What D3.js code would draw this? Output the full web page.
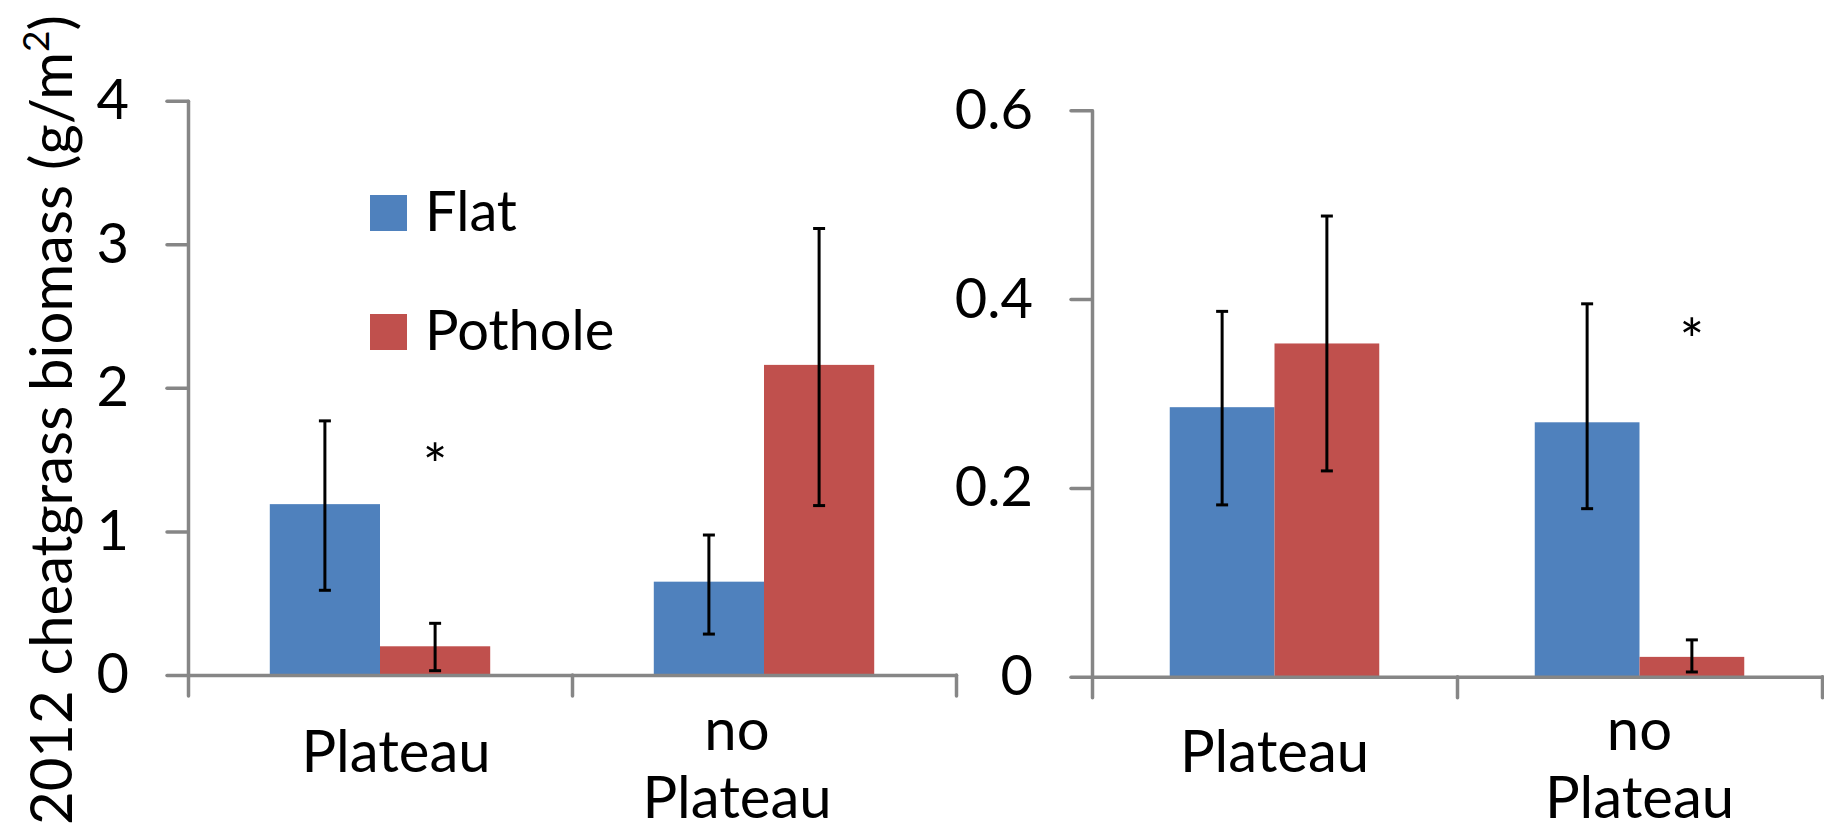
<!DOCTYPE html>
<html lang="en">
<head>
  <meta charset="UTF-8">
  <title>Cheatgrass biomass</title>
  <script src="https://cdn.jsdelivr.net/npm/d3@7"></script>
  <style>
  html, body { margin: 0; padding: 0; background: #fff; }
  svg { display: block; font-family: Lato, "Open Sans", sans-serif; }
  .axis path, .axis line { stroke: #868686; stroke-width: 3.5px; stroke-linecap: round; }
  .axis text { fill: #000; font-size: 56px; font-family: Lato, sans-serif; }
  .cat-label { font-size: 58px; fill: #000; }
  .legend text { font-size: 56px; fill: #000; }
  .err { stroke: #000; stroke-width: 3px; }
  </style>
</head>
<body>
<svg id="chart" width="1824" height="836"></svg>
<script>
// data
const categories = ['Plateau', 'no Plateau'];
const series = ['Flat', 'Pothole'];
const colors = ['#4F81BD', '#C0504D'];

// left panel
const leftFlat = [1.19, 0.65];
const leftPothole = [0.20, 2.16];
const leftFlatLow = [0.59, 0.285];
const leftFlatHigh = [1.77, 0.975];
const leftPotholeLow = [0.03, 1.18];
const leftPotholeHigh = [0.36, 3.11];
const leftTicks = [0, 1, 2, 3, 4];
const leftStar = { cat: 'Plateau', series: 'Pothole', value: 1.54 };

// right panel
const rightFlat = [0.2855, 0.2695];
const rightPothole = [0.353, 0.021];
const rightFlatLow = [0.182, 0.178];
const rightFlatHigh = [0.387, 0.395];
const rightPotholeLow = [0.218, 0.005];
const rightPotholeHigh = [0.488, 0.039];
const rightTicks = [0, 0.2, 0.4, 0.6];
const rightStar = { cat: 'no Plateau', series: 'Pothole', value: 0.368 };

const svg = d3.select('#chart');

function rows(vals, lows, highs) {
  return categories.map((c, i) => ({ cat: c, value: vals[i], low: lows[i], high: highs[i] }));
}

function panel(opts) {
  const y = d3.scaleLinear().domain(opts.domain).range([opts.y0, opts.y1]);
  const x0 = d3.scaleBand().domain(categories).range([opts.x0, opts.x1]).padding(0);
  const x1 = d3.scaleBand().domain(series)
    .range([x0.bandwidth() * 0.213, x0.bandwidth() * 0.787]).padding(0);
  const g = svg.append('g');

  // bars
  opts.data.forEach((rs, si) => {
    const sg = g.append('g');
    sg.selectAll('rect').data(rs).join('rect')
      .attr('x', d => x0(d.cat) + x1(series[si]))
      .attr('y', d => y(d.value))
      .attr('width', x1.bandwidth())
      .attr('height', d => y(0) - y(d.value))
      .attr('fill', colors[si]);
    // error bars
    const cx = d => x0(d.cat) + x1(series[si]) + x1.bandwidth() / 2;
    sg.selectAll('line.v').data(rs).join('line').attr('class', 'err v')
      .attr('x1', cx).attr('x2', cx)
      .attr('y1', d => y(d.low)).attr('y2', d => y(d.high));
    ['low', 'high'].forEach(k => {
      sg.selectAll('line.' + k).data(rs).join('line').attr('class', 'err ' + k)
        .attr('x1', d => cx(d) - 6).attr('x2', d => cx(d) + 6)
        .attr('y1', d => y(d[k])).attr('y2', d => y(d[k]));
    });
  });

  // y axis
  g.append('g').attr('class', 'axis')
    .attr('transform', `translate(${opts.x0},0)`)
    .call(d3.axisLeft(y).tickValues(opts.ticks).tickSize(21).tickSizeOuter(0)
      .tickPadding(38).tickFormat(opts.fmt));

  // x axis, ticks at category boundaries
  const xb = d3.scaleLinear().domain([0, categories.length]).range([opts.x0, opts.x1]);
  g.append('g').attr('class', 'axis')
    .attr('transform', `translate(0,${y(0)})`)
    .call(d3.axisBottom(xb).ticks(categories.length).tickSize(21).tickSizeOuter(0)
      .tickFormat(''));

  // category labels
  categories.forEach((c, i) => {
    const words = c.split(' ');
    const cx = x0(c) + x0.bandwidth() / 2 + opts.labelDx[i];
    const t = g.append('text').attr('class', 'cat-label').attr('text-anchor', 'middle');
    if (words.length === 1) {
      t.attr('x', cx).attr('y', 772).text(c);
    } else {
      words.forEach((w, j) => t.append('tspan').attr('x', cx).attr('y', 750 + j * 68).text(w));
    }
  });

  // significance star
  const s = opts.star;
  g.append('text')
    .attr('x', x0(s.cat) + x1(s.series) + x1.bandwidth() / 2)
    .attr('y', y(s.value) + 32)
    .attr('text-anchor', 'middle')
    .attr('font-size', 58)
    .text('*');
}

panel({
  domain: [0, 4], ticks: leftTicks, fmt: d3.format('d'),
  x0: 188, x1: 956, y0: 675, y1: 100.7,
  labelDx: [16, -27],
  data: [rows(leftFlat, leftFlatLow, leftFlatHigh), rows(leftPothole, leftPotholeLow, leftPotholeHigh)],
  star: leftStar
});

panel({
  domain: [0, 0.6], ticks: rightTicks, fmt: d => d === 0 ? '0' : d3.format('.1f')(d),
  x0: 1092, x1: 1822, y0: 676.7, y1: 110.3,
  labelDx: [0, 0],
  data: [rows(rightFlat, rightFlatLow, rightFlatHigh), rows(rightPothole, rightPotholeLow, rightPotholeHigh)],
  star: rightStar
});

// legend
const legend = svg.append('g').attr('class', 'legend');
series.forEach((s, i) => {
  const ly = 195 + i * 119;
  legend.append('rect').attr('x', 370).attr('y', ly).attr('width', 37).attr('height', 36)
    .attr('fill', colors[i]);
  legend.append('text').attr('x', 425).attr('y', ly + 36).text(s);
});

// y title
const title = svg.append('text')
  .attr('transform', 'translate(72,420) rotate(-90)')
  .attr('text-anchor', 'middle')
  .attr('font-size', 58)
  .attr('fill', '#000');
title.append('tspan').text('2012 cheatgrass biomass (g/m');
title.append('tspan').attr('font-size', 37).attr('dy', -23).text('2');
title.append('tspan').attr('dy', 23).text(')');
</script>
</body>
</html>
